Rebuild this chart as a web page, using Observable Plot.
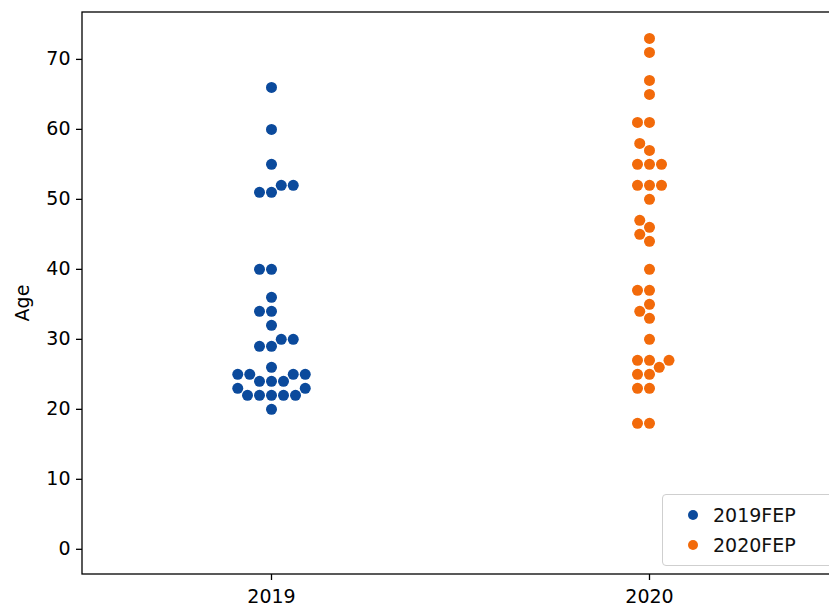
<!DOCTYPE html>
<html>
<head>
<meta charset="utf-8">
<script src="https://cdn.jsdelivr.net/npm/d3@7"></script>
<script src="https://cdn.jsdelivr.net/npm/@observablehq/plot@0.6"></script>
<style>
  html, body { margin: 0; padding: 0; background: #fff; }
  #wrap { position: relative; width: 829px; height: 611px; overflow: hidden; font-family: "DejaVu Sans", sans-serif; }
  #legend { position: absolute; left: 662px; top: 494px; width: 180px; height: 70px; border: 1px solid #cfcfcf; border-radius: 4px; background: rgba(255,255,255,0.8); font-size: 19px; color: #111; }
  .row { position: absolute; left: 0; height: 24px; line-height: 24px; }
  .sw { position: absolute; left: 25px; top: 7px; width: 10px; height: 10px; border-radius: 50%; }
  .lab { position: absolute; left: 50px; top: 0; white-space: nowrap; }
</style>
</head>
<body>
<div id="wrap"></div>
<script>
// ---- data ----
const years = [2019, 2020];
const seriesNames = ["2019FEP", "2020FEP"];
const colors = ["#0b4a9c", "#f26a0a"];
const ages2019 = [66, 60, 55, 52, 52, 51, 51, 40, 40, 36, 34, 34, 32, 30, 30, 29, 29, 26, 25, 25, 25, 25, 24, 24, 24, 23, 23, 22, 22, 22, 22, 22, 20];
const ages2020 = [73, 71, 67, 65, 61, 61, 58, 57, 55, 55, 55, 52, 52, 52, 50, 47, 46, 45, 44, 40, 37, 37, 35, 34, 33, 30, 27, 27, 27, 26, 25, 25, 23, 23, 18, 18];
const yTicks = [0, 10, 20, 30, 40, 50, 60, 70];
const yLabel = "Age";

// ---- build table ----
const points = [
  ...ages2019.map(a => ({year: years[0], age: a})),
  ...ages2020.map(a => ({year: years[1], age: a}))
];
const sorted = d3.sort(points, d => d.age);

const W = 829, H = 611;
const mL = 82, mT = 12, mB = 37, mR = -9;

const chart = Plot.plot({
  width: W,
  height: H,
  marginLeft: mL,
  marginTop: mT,
  marginBottom: mB,
  marginRight: mR,
  style: {fontSize: "19px", fontFamily: "DejaVu Sans, sans-serif", color: "#000", background: "transparent", overflow: "visible"},
  facet: {data: sorted, x: "year"},
  fx: {domain: years, padding: 0, label: null, axis: "bottom", tickSize: 6, tickPadding: 9, tickFormat: d => String(d)},
  x: {axis: null},
  y: {domain: [-3.6, 76.7], ticks: yTicks, tickSize: 6, tickPadding: 6, label: null},
  color: {domain: years, range: colors},
  marks: [
    Plot.dot(sorted, Plot.dodgeX("middle", {y: "age", r: 5.5, fill: "year", padding: 0}))
  ]
});

const svg = d3.select(chart);
svg.selectAll("g[aria-label='y-axis tick'] path, g[aria-label='fx-axis tick'] path, g[aria-label='y-axis'] path, g[aria-label='fx-axis'] path")
  .attr("stroke-width", 1.3);
// frame box (matplotlib-style spines)
svg.append("rect")
  .attr("x", mL).attr("y", mT)
  .attr("width", W - mL - mR).attr("height", H - mT - mB)
  .attr("fill", "none").attr("stroke", "#000").attr("stroke-width", 1.3);
// y-axis title
svg.append("text")
  .attr("transform", `translate(23,${(mT + H - mB) / 2 + 10}) rotate(-90)`)
  .attr("text-anchor", "middle").attr("dominant-baseline", "middle")
  .attr("font-size", 19).attr("fill", "#000")
  .text(yLabel);

const wrap = document.getElementById("wrap");
wrap.appendChild(chart);

// legend
const leg = document.createElement("div");
leg.id = "legend";
seriesNames.forEach((name, i) => {
  const row = document.createElement("div");
  row.className = "row";
  row.style.top = (8 + i * 30) + "px";
  row.innerHTML = `<span class="sw" style="background:${colors[i]}"></span><span class="lab">${name}</span>`;
  leg.appendChild(row);
});
wrap.appendChild(leg);
</script>
</body>
</html>
